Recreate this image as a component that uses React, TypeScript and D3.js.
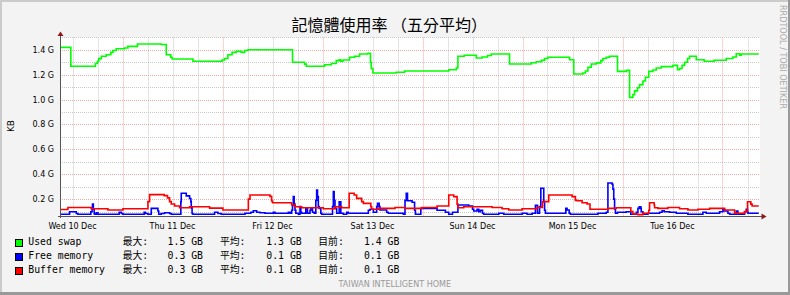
import React from "react";
import * as d3 from "d3";

const W = 790;
const H = 295;

const TITLE = "記憶體使用率 （五分平均）";
const Y_UNIT = "KB";
const WATERMARK = "RRDTOOL / TOBI OETIKER";
const FOOTER = "TAIWAN INTELLIGENT HOME";
const X_LABELS = ["Wed 10 Dec", "Thu 11 Dec", "Fri 12 Dec", "Sat 13 Dec", "Sun 14 Dec", "Mon 15 Dec", "Tue 16 Dec"];
const Y_TICKS = [0.2, 0.4, 0.6, 0.8, 1.0, 1.2, 1.4];
const Y_MINOR = [0.1, 0.3, 0.5, 0.7, 0.9, 1.1, 1.3, 1.5];
const SERIES_NAMES = ["Used swap", "Free memory", "Buffer memory"];
const SERIES_COLORS = ["#00ff00", "#0000ff", "#ff0000"];
const MAX_VALUES = ["1.5 GB", "0.3 GB", "0.3 GB"];
const AVG_VALUES = ["1.3 GB", "0.1 GB", "0.1 GB"];
const CUR_VALUES = ["1.4 GB", "0.1 GB", "0.1 GB"];
const LBL_MAX = "最大:";
const LBL_AVG = "平均:";
const LBL_CUR = "目前:";

// hours since Wed 10 Dec 09:00
const END_HOUR = 167.7;
const swapHours = [0, 2.6, 8.5, 9.0, 9.3, 9.9, 11.1, 12.2, 12.7, 13.5, 15.5, 16.3, 18.6, 24.3, 25.5, 26.6, 26.9, 31.9, 38.9, 39.5, 40.3, 41.3, 42.3, 43.5, 44.3, 45.1, 55.8, 58.7, 59.1, 63.5, 65.1, 66.3, 67.0, 67.4, 67.9, 69.5, 70.7, 71.9, 73.9, 74.5, 74.7, 75.1, 80.7, 82.7, 93.3, 95.1, 95.5, 97.0, 99.9, 101.3, 102.6, 103.5, 107.9, 113.1, 114.3, 115.5, 116.3, 117.1, 122.3, 123.3, 125.5, 126.1, 126.7, 127.5, 128.7, 129.8, 130.3, 131.1, 131.9, 133.8, 135.9, 136.7, 137.5, 137.9, 138.6, 139.1, 139.9, 140.5, 141.3, 142.3, 143.1, 144.3, 147.1, 148.2, 148.7, 149.3, 149.9, 150.6, 151.1, 152.7, 154.6, 157.0, 159.9, 161.5, 162.3, 163.1, 163.5];
const swapValues = [1.42, 1.268, 1.29, 1.308, 1.329, 1.348, 1.361, 1.38, 1.395, 1.409, 1.415, 1.428, 1.447, 1.443, 1.361, 1.34, 1.326, 1.308, 1.318, 1.33, 1.36, 1.38, 1.388, 1.38, 1.395, 1.401, 1.30, 1.285, 1.268, 1.28, 1.29, 1.313, 1.32, 1.308, 1.318, 1.34, 1.348, 1.367, 1.372, 1.30, 1.25, 1.214, 1.22, 1.23, 1.24, 1.254, 1.348, 1.356, 1.334, 1.342, 1.355, 1.367, 1.286, 1.296, 1.304, 1.315, 1.33, 1.34, 1.32, 1.206, 1.214, 1.23, 1.26, 1.286, 1.295, 1.313, 1.33, 1.34, 1.348, 1.227, 1.235, 1.018, 1.04, 1.07, 1.095, 1.12, 1.15, 1.18, 1.227, 1.238, 1.254, 1.265, 1.275, 1.24, 1.25, 1.275, 1.30, 1.33, 1.348, 1.32, 1.308, 1.316, 1.33, 1.342, 1.369, 1.357, 1.367];

const freeHours = [0, 2.3, 3.9, 4.3, 7.4, 7.7, 7.8, 8.0, 8.2, 8.3, 8.7, 9.1, 14.2, 14.7, 15.1, 20.2, 20.5, 21.1, 21.9, 23.5, 23.7, 24.3, 25.1, 26.3, 26.7, 29.0, 29.1, 30.3, 31.1, 31.4, 31.5, 31.7, 31.9, 37.1, 37.9, 38.7, 44.4, 45.8, 46.4, 47.2, 48.0, 49.2, 51.2, 51.6, 54.8, 55.2, 55.6, 55.8, 56.0, 56.2, 56.4, 56.6, 57.2, 57.6, 57.8, 58.0, 59.0, 59.4, 60.0, 60.2, 60.6, 61.0, 61.4, 61.6, 61.8, 62.0, 62.2, 62.6, 62.8, 65.4, 65.6, 65.8, 66.0, 66.4, 67.0, 67.4, 68.0, 68.8, 69.2, 74.0, 74.4, 75.2, 76.0, 76.2, 76.6, 76.8, 78.4, 78.8, 82.4, 82.8, 83.1, 83.4, 84.5, 85.1, 85.3, 86.6, 90.5, 92.5, 93.3, 94.2, 95.5, 98.1, 99.0, 99.3, 100.1, 100.5, 100.9, 101.4, 101.7, 105.3, 106.5, 110.9, 112.1, 113.3, 114.1, 114.6, 115.1, 115.4, 116.1, 116.3, 116.5, 121.4, 121.7, 122.2, 122.5, 129.1, 131.1, 131.5, 132.5, 132.7, 132.9, 133.1, 133.3, 133.8, 135.9, 137.0, 138.3, 138.7, 139.0, 139.4, 139.5, 139.9, 141.1, 143.9, 144.5, 145.0, 146.3, 147.9, 150.7, 154.3, 155.1, 158.3, 159.1, 159.5, 160.3, 160.7, 162.3, 162.7, 164.3, 164.7, 165.0, 165.1];
const freeValues = [0.078, 0.099, 0.085, 0.078, 0.099, 0.13, 0.161, 0.12, 0.085, 0.078, 0.09, 0.078, 0.095, 0.085, 0.078, 0.094, 0.085, 0.078, 0.126, 0.105, 0.078, 0.085, 0.09, 0.085, 0.078, 0.18, 0.247, 0.226, 0.205, 0.18, 0.13, 0.085, 0.078, 0.094, 0.085, 0.078, 0.086, 0.094, 0.107, 0.094, 0.09, 0.086, 0.094, 0.086, 0.094, 0.086, 0.11, 0.15, 0.22, 0.16, 0.11, 0.086, 0.078, 0.14, 0.094, 0.086, 0.13, 0.086, 0.11, 0.131, 0.094, 0.086, 0.19, 0.273, 0.22, 0.14, 0.126, 0.086, 0.078, 0.14, 0.26, 0.19, 0.126, 0.086, 0.179, 0.086, 0.078, 0.094, 0.086, 0.11, 0.118, 0.094, 0.14, 0.166, 0.14, 0.113, 0.094, 0.086, 0.078, 0.19, 0.247, 0.187, 0.175, 0.11, 0.078, 0.126, 0.11, 0.094, 0.078, 0.094, 0.153, 0.145, 0.118, 0.105, 0.118, 0.099, 0.11, 0.086, 0.078, 0.086, 0.078, 0.086, 0.078, 0.086, 0.15, 0.086, 0.14, 0.287, 0.18, 0.11, 0.086, 0.126, 0.113, 0.086, 0.078, 0.086, 0.094, 0.33, 0.32, 0.28, 0.2, 0.12, 0.086, 0.094, 0.099, 0.078, 0.094, 0.126, 0.139, 0.126, 0.099, 0.078, 0.086, 0.094, 0.107, 0.099, 0.094, 0.086, 0.078, 0.094, 0.086, 0.099, 0.118, 0.105, 0.086, 0.078, 0.105, 0.078, 0.099, 0.118, 0.099, 0.086];

const bufferHours = [0, 1.9, 7.5, 11.5, 15.1, 21.1, 21.5, 25.0, 25.8, 26.3, 26.7, 27.5, 28.7, 31.1, 35.9, 39.1, 45.2, 45.6, 50.4, 50.8, 51.0, 55.6, 56.4, 58.0, 63.2, 66.0, 67.6, 69.4, 70.6, 71.2, 72.4, 72.8, 74.6, 74.8, 76.4, 80.4, 82.8, 86.9, 90.5, 93.3, 94.5, 95.3, 95.5, 96.9, 103.7, 106.1, 107.7, 110.9, 114.5, 115.8, 117.3, 122.9, 123.7, 124.1, 125.3, 126.5, 127.2, 131.5, 133.5, 137.0, 137.5, 138.7, 139.9, 141.3, 141.5, 142.6, 142.7, 143.5, 145.9, 148.7, 150.7, 153.1, 155.9, 159.5, 161.9, 164.3, 165.0, 165.8, 166.1];
const bufferValues = [0.117, 0.133, 0.123, 0.113, 0.123, 0.18, 0.236, 0.228, 0.21, 0.18, 0.161, 0.145, 0.131, 0.139, 0.128, 0.113, 0.20, 0.233, 0.222, 0.185, 0.171, 0.153, 0.139, 0.131, 0.123, 0.139, 0.131, 0.247, 0.233, 0.206, 0.18, 0.166, 0.139, 0.118, 0.126, 0.133, 0.126, 0.133, 0.145, 0.233, 0.22, 0.16, 0.131, 0.139, 0.133, 0.123, 0.113, 0.123, 0.133, 0.18, 0.233, 0.22, 0.19, 0.187, 0.171, 0.161, 0.118, 0.126, 0.131, 0.1, 0.08, 0.075, 0.086, 0.11, 0.171, 0.153, 0.131, 0.126, 0.133, 0.123, 0.113, 0.118, 0.126, 0.113, 0.086, 0.10, 0.179, 0.16, 0.145];

const SERIES = [
  { hours: swapHours, values: swapValues },
  { hours: freeHours, values: freeValues },
  { hours: bufferHours, values: bufferValues },
];

const PLOT_L = 60;
const PLOT_R = 760;
const PLOT_B = 216;
const Y_MIN = 0.0643;
const Y_MAX = 1.5;
const PLOT_T = 37.4;

const SANS = "'DejaVu Sans', sans-serif";
const MONO = "'DejaVu Sans Mono', 'Noto Sans CJK TC', monospace";
const CJK = "'Noto Sans CJK TC', sans-serif";

export default function App() {
  const x = d3.scaleLinear().domain([0, 168]).range([PLOT_L, PLOT_R]);
  const y = d3.scaleLinear().domain([Y_MIN, Y_MAX]).range([PLOT_B, PLOT_T]);

  const line = d3
    .line<[number, number]>()
    .x((d) => x(d[0]))
    .y((d) => y(d[1]))
    .curve(d3.curveStepAfter);

  const minorX: number[] = [];
  const majorX: number[] = [];
  for (let h = 3; h <= 168; h += 6) {
    if ((h - 15) % 24 === 0) majorX.push(h);
    else minorX.push(h);
  }
  const labelX = X_LABELS.map((_, i) => 3 + 24 * i);

  const snap = (v: number) => Math.round(v) + 0.5;
  const gridGray = "#c8c8c8";
  const gridRed = "#eeaaaa";

  const legendRowsY = [245, 259, 273];

  return (
    <svg width={W} height={H} style={{ display: "block", position: "absolute", left: 0, top: 0 }}>
      <rect x={0} y={0} width={W} height={H} fill="#f3f3f3" />
      {/* shaded border */}
      <rect x={0} y={0} width={W} height={2} fill="#cbcbcb" />
      <rect x={0} y={0} width={2} height={H} fill="#cbcbcb" />
      <rect x={0} y={H - 3} width={W} height={3} fill="#999999" />
      <rect x={W - 2} y={0} width={2} height={H} fill="#999999" />

      {/* canvas */}
      <rect x={PLOT_L} y={PLOT_T} width={PLOT_R - PLOT_L} height={PLOT_B - PLOT_T} fill="#ffffff" />

      {/* grid */}
      {Y_MINOR.map((v) => (
        <line key={"ym" + v} x1={PLOT_L} x2={PLOT_R} y1={snap(y(v))} y2={snap(y(v))} stroke={gridGray} strokeDasharray="1,1" />
      ))}
      {minorX.map((h) => (
        <line key={"xm" + h} x1={snap(x(h))} x2={snap(x(h))} y1={PLOT_T} y2={PLOT_B} stroke={gridGray} strokeDasharray="1,1" />
      ))}
      {Y_TICKS.map((v) => (
        <line key={"yM" + v} x1={PLOT_L} x2={PLOT_R} y1={snap(y(v))} y2={snap(y(v))} stroke={gridRed} strokeDasharray="1,1" />
      ))}
      {majorX.map((h) => (
        <line key={"xM" + h} x1={snap(x(h))} x2={snap(x(h))} y1={PLOT_T} y2={PLOT_B} stroke={gridRed} strokeDasharray="1,1" />
      ))}

      {/* series */}
      {SERIES.map((s, i) => {
        const pts: [number, number][] = s.hours.map((h, j) => [h, s.values[j]]);
        pts.push([END_HOUR, s.values[s.values.length - 1]]);
        return <path key={i} d={line(pts) || ""} fill="none" stroke={SERIES_COLORS[i]} strokeWidth={1.6} />;
      })}

      {/* axes */}
      <line x1={PLOT_L + 0.5} x2={PLOT_L + 0.5} y1={PLOT_B + 2} y2={PLOT_T - 3} stroke="#555" />
      <line x1={PLOT_L - 2} x2={PLOT_R + 3} y1={PLOT_B + 0.5} y2={PLOT_B + 0.5} stroke="#555" />
      <path d={`M${PLOT_L - 2.5},${PLOT_T - 1.5} L${PLOT_L + 3.5},${PLOT_T - 1.5} L${PLOT_L + 0.5},${PLOT_T - 6} Z`} fill="#8b1a1a" />
      <path d={`M${PLOT_R + 1.5},${PLOT_B - 2.5} L${PLOT_R + 1.5},${PLOT_B + 3.5} L${PLOT_R + 6.5},${PLOT_B + 0.5} Z`} fill="#8b1a1a" />

      {/* y tick labels */}
      {Y_TICKS.map((v) => (
        <text key={"yl" + v} x={54} y={y(v) + 3} textAnchor="end" fontFamily={SANS} fontSize={8} fill="#000">
          {v.toFixed(1) + " G"}
        </text>
      ))}
      {/* x labels */}
      {labelX.map((h, i) => (
        <text key={"xl" + i} x={x(h)} y={229} textAnchor="middle" fontFamily={SANS} fontSize={8} fill="#000">
          {X_LABELS[i]}
        </text>
      ))}

      {/* y unit */}
      <text transform={`translate(14,126) rotate(-90)`} textAnchor="middle" fontFamily={SANS} fontSize={9} fill="#000">
        {Y_UNIT}
      </text>

      {/* title */}
      <text x={291.5} y={31} fontFamily={CJK} fontSize={16} fill="#000">
        {TITLE}
      </text>

      {/* watermark */}
      <text transform={`translate(780,5) rotate(90)`} fontFamily={SANS} fontSize={8.5} fill="#aaaaaa" textLength={104} lengthAdjust="spacingAndGlyphs">
        {WATERMARK}
      </text>

      {/* footer */}
      <text x={338.5} y={286.5} fontFamily={SANS} fontSize={8.5} fill="#999999" textLength={112.5} lengthAdjust="spacingAndGlyphs">
        {FOOTER}
      </text>

      {/* legend */}
      {SERIES_NAMES.map((name, i) => {
        const by = legendRowsY[i];
        return (
          <g key={"lg" + i}>
            <rect x={15.5} y={by - 5.5} width={7} height={7} fill={SERIES_COLORS[i]} stroke="#000" strokeWidth={1} />
            <text x={28.3} y={by} fontFamily={MONO} fontSize={9.8} fill="#000">{name}</text>
            <text x={122.7} y={by} fontFamily={MONO} fontSize={9.8} fill="#000">{LBL_MAX}</text>
            <text x={203} y={by} textAnchor="end" fontFamily={MONO} fontSize={9.8} fill="#000">{MAX_VALUES[i]}</text>
            <text x={220} y={by} fontFamily={MONO} fontSize={9.8} fill="#000">{LBL_AVG}</text>
            <text x={301.7} y={by} textAnchor="end" fontFamily={MONO} fontSize={9.8} fill="#000">{AVG_VALUES[i]}</text>
            <text x={318.3} y={by} fontFamily={MONO} fontSize={9.8} fill="#000">{LBL_CUR}</text>
            <text x={399.3} y={by} textAnchor="end" fontFamily={MONO} fontSize={9.8} fill="#000">{CUR_VALUES[i]}</text>
          </g>
        );
      })}
    </svg>
  );
}
